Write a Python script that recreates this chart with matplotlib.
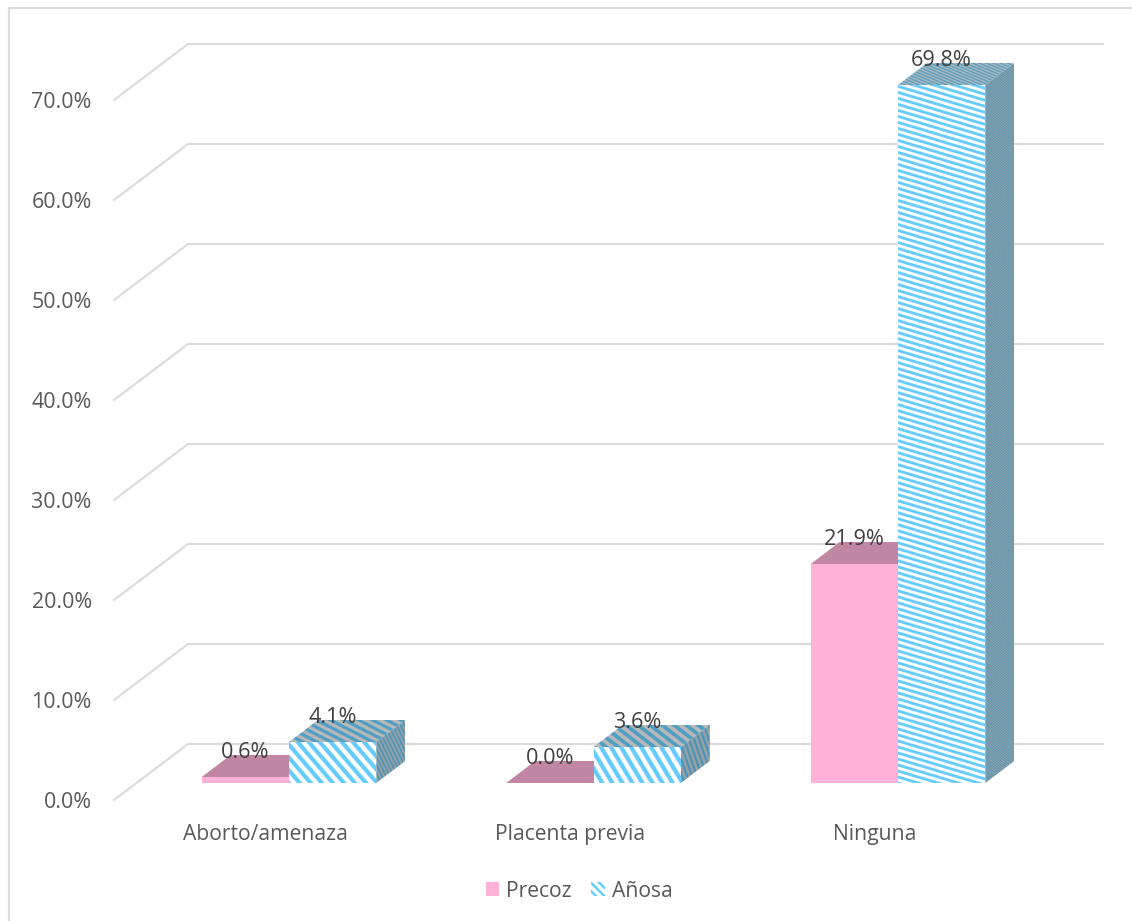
import numpy as np
import matplotlib
matplotlib.use("Agg")
import matplotlib.pyplot as plt
from matplotlib.lines import Line2D
from matplotlib.patches import Patch, Polygon
from matplotlib.ticker import FuncFormatter

categories = ["Aborto/amenaza", "Placenta previa", "Ninguna"]
precoz = [0.6, 0.0, 21.9]
anosa = [4.1, 3.6, 69.8]
series_names = ["Precoz", "Añosa"]
y_ticks = [0, 10, 20, 30, 40, 50, 60, 70]

plt.rcParams["font.family"] = ["Open Sans", "DejaVu Sans"]
W, H = 1132, 921
fig = plt.figure(figsize=(W / 100, H / 100), dpi=100, facecolor="white")

# plot-area geometry in pixels
L, R, T, B = 114, 1103, 44, 800
ax = fig.add_axes([L / W, 1 - B / H, (R - L) / W, (B - T) / H])
XU = 304.5           # pixels per category
YU = 10.0            # pixels per percent
C0 = 289.0           # pixel of first category centre
xlim = ((L - C0) / XU, (R - C0) / XU)
ylim = (0, (B - T) / YU)
ax.set_xlim(xlim)
ax.set_ylim(ylim)
for s in ax.spines.values():
    s.set_visible(False)
ax.patch.set_visible(False)

GRID = "#dcdcdc"
LW = 1.6
WALL_DX, WALL_DY = 74 / XU, 56 / YU       # floor depth
BAR_DX, BAR_DY = 29 / XU, 22 / YU         # bar depth
BASE = 17 / YU                            # bar base height over the floor front
BW = 87.3 / XU

for v in y_ticks:
    ax.plot([xlim[0], xlim[0] + WALL_DX, xlim[1]],
            [v, v + WALL_DY, v + WALL_DY],
            color=GRID, lw=LW, clip_on=False, zorder=1, solid_joinstyle="miter")

BLUE, WHITE = "#66ccff", "#ffffff"
TOP_B, TOP_G = "#4f9fc6", "#b9b9b9"
SIDE_B, SIDE_G = "#4a96bc", "#a0a0a0"
PINK, PINK_TOP = "#ffb1d8", "#c086a4"


def textured(pts, c1, c2, px, py, z):
    """Fill a polygon with diagonal stripes (px, py = stripe period in pixels)."""
    pts = np.array(pts)
    x0, x1 = pts[:, 0].min(), pts[:, 0].max()
    y0, y1 = pts[:, 1].min(), pts[:, 1].max()
    nx = max(int((x1 - x0) * XU * 3), 2)
    ny = max(int((y1 - y0) * YU * 3), 2)
    xs = np.linspace(x0, x1, nx) * XU
    ys = np.linspace(y0, y1, ny) * YU
    X, Y = np.meshgrid(xs, ys)
    t = (np.sin(2 * np.pi * (X / px + Y / py)) > 0)[..., None]
    a = np.array(matplotlib.colors.to_rgb(c1))
    b = np.array(matplotlib.colors.to_rgb(c2))
    img = np.where(t, a, b)
    im = ax.imshow(img, extent=(x0, x1, y0, y1), origin="lower", aspect="auto",
                   interpolation="antialiased", zorder=z)
    clip = Polygon(pts, closed=True, transform=ax.transData, fc="none", ec="none")
    ax.add_patch(clip)
    im.set_clip_path(clip)
    im.set_clip_on(True)


def faces(x, v):
    y0, y1 = BASE, BASE + v
    front = [(x, y0), (x + BW, y0), (x + BW, y1), (x, y1)]
    top = [(x, y1), (x + BW, y1), (x + BW + BAR_DX, y1 + BAR_DY), (x + BAR_DX, y1 + BAR_DY)]
    side = [(x + BW, y0), (x + BW + BAR_DX, y0 + BAR_DY),
            (x + BW + BAR_DX, y1 + BAR_DY), (x + BW, y1)]
    return front, top, side


# stripe periods per bar (front, top, side), in pixels
stripes = [((11, 13), (14, 7), (4, 8)),
           ((10, 17), (12, 9), (5, 14)),
           ((20, 6), (7, 3), (3, 2.5))]

z = 3.0
for i in range(len(categories)):
    f, t, s = faces(i - BW, precoz[i])
    ax.add_patch(Polygon(t, closed=True, fc=PINK_TOP, ec="none", zorder=z))
    if precoz[i] > 0:
        ax.add_patch(Polygon(f, closed=True, fc=PINK, ec="none", zorder=z + 0.1))
    ax.add_patch(Polygon(s, closed=True, fc=PINK_TOP, ec="none", zorder=z - 0.1))
    f, t, s = faces(i, anosa[i])
    sf, st, ss = stripes[i]
    textured(f, BLUE, WHITE, *sf, z + 0.4)
    textured(t, TOP_B, TOP_G, *st, z + 0.3)
    textured(s, SIDE_B, SIDE_G, *ss, z + 0.3)
    z += 1

ax.set_xlim(xlim)
ax.set_ylim(ylim)

# value labels
LBL = BASE + BAR_DY + 0.3
for i in range(len(categories)):
    for off, v in ((-BW / 2, precoz[i]), (BW / 2, anosa[i])):
        ax.text(i + off, LBL + v, f"{v:.1f}%", ha="center", va="center",
                fontsize=15.6, color="#404040", zorder=20, clip_on=False)

ax.set_yticks(y_ticks)
ax.yaxis.set_major_formatter(FuncFormatter(lambda v, _: f"{v:.1f}%"))
ax.set_xticks(np.arange(len(categories)) - 23.5 / XU)
ax.set_xticklabels(categories)
ax.tick_params(axis="y", length=0, pad=16, labelsize=15.4, labelcolor="#595959")
ax.tick_params(axis="x", length=0, pad=17, labelsize=15.2, labelcolor="#595959")

# chart frame: top and left edges
fig.add_artist(Line2D([1.0, 9 / W, 9 / W], [1 - 8 / H, 1 - 8 / H, 0],
                      color=GRID, lw=LW, transform=fig.transFigure))

# legend
plt.rcParams["hatch.linewidth"] = 1.8
handles = [Patch(facecolor=PINK, edgecolor=PINK, linewidth=0, label=series_names[0]),
           Patch(facecolor=WHITE, edgecolor=BLUE, linewidth=0, hatch="\\\\\\\\", label=series_names[1])]
leg = fig.legend(handles=handles, loc="center", bbox_to_anchor=(579 / W, 1 - 891 / H),
                 ncol=2, frameon=False, fontsize=15.2, labelcolor="#595959",
                 handlelength=0.66, handleheight=0.66, handletextpad=0.3,
                 columnspacing=0.95, borderpad=0)

fig.savefig("out.png", dpi=100, facecolor="white")
